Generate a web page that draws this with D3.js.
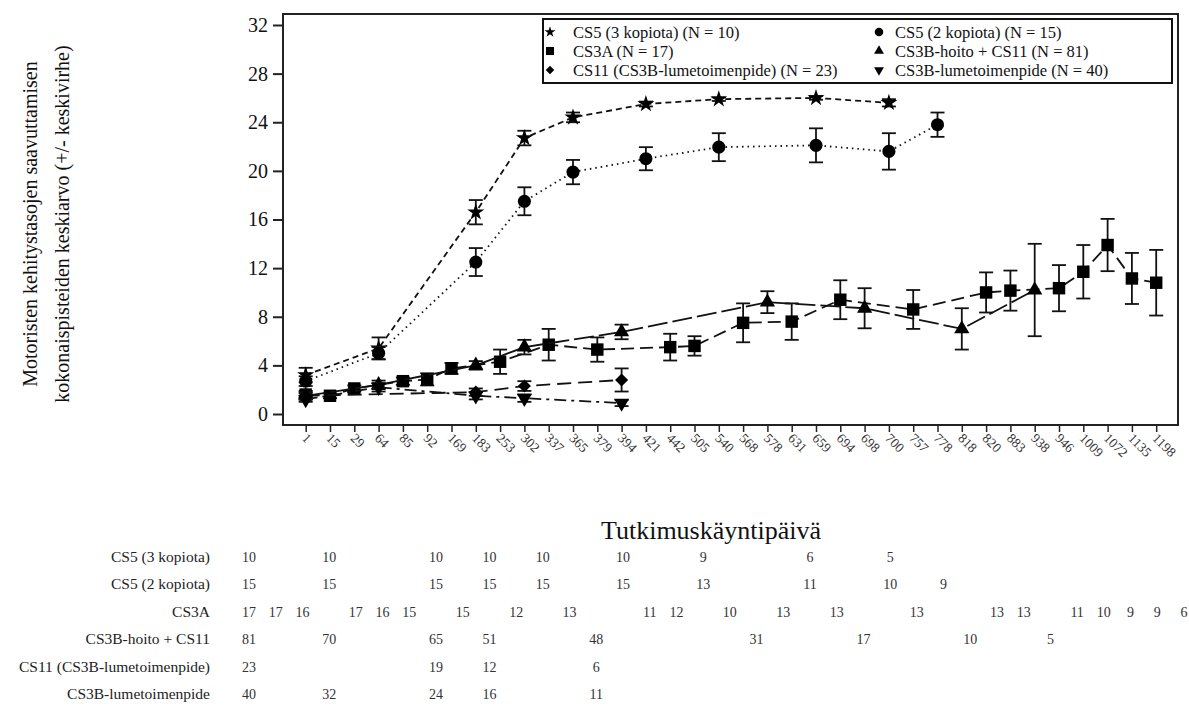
<!DOCTYPE html>
<html>
<head>
<meta charset="utf-8">
<script src="https://cdn.jsdelivr.net/npm/d3@7"></script>
<style>
  body { margin: 0; background: #fff; }
  svg { display: block; font-family: "Liberation Serif", "Times New Roman", "DejaVu Serif", serif; }
</style>
</head>
<body>
<svg id="chart" width="1189" height="706"></svg>
<script>
// Visit days on the x axis (treated as categories, evenly spaced)
const days = ['1', '15', '29', '64', '85', '92', '169', '183', '253', '302', '337', '365',
  '379', '394', '421', '442', '505', '540', '568', '578', '631', '659', '694', '698',
  '700', '757', '778', '818', '820', '883', '938', '946', '1009', '1072', '1135', '1198'];

const yTicks = [0, 4, 8, 12, 16, 20, 24, 28, 32];

// Series names (table rows) and the N shown in the legend
const seriesNames = ['CS5 (3 kopiota)', 'CS5 (2 kopiota)', 'CS3A', 'CS3B-hoito + CS11',
  'CS11 (CS3B-lumetoimenpide)', 'CS3B-lumetoimenpide'];
const legendN = [10, 15, 17, 81, 23, 40];

// CS5 (3 kopiota)
const cs5k3Days = ['1', '64', '183', '302', '365', '421', '540', '659', '700'];
const cs5k3Mean = [3.2, 5.4, 16.6, 22.7, 24.4, 25.5, 25.9, 26.0, 25.6];
const cs5k3Se = [0.6, 0.9, 1.0, 0.6, 0.4, 0.2, 0.15, 0.15, 0.3];
const cs5k3N = [10, 10, 10, 10, 10, 10, 9, 6, 5];

// CS5 (2 kopiota)
const cs5k2Days = ['1', '64', '183', '302', '365', '421', '540', '659', '700', '778'];
const cs5k2Mean = [2.7, 5.0, 12.5, 17.5, 19.9, 21.0, 21.95, 22.1, 21.6, 23.8];
const cs5k2Se = [0.4, 0.5, 1.15, 1.15, 1.0, 0.95, 1.15, 1.4, 1.5, 1.0];
const cs5k2N = [15, 15, 15, 15, 15, 15, 13, 11, 10, 9];

// CS3A
const cs3aDays = ['1', '15', '29', '85', '92', '169', '253', '337', '379', '442', '505',
  '568', '631', '694', '757', '820', '883', '946', '1009', '1072', '1135', '1198'];
const cs3aMean = [1.6, 1.5, 2.1, 2.7, 2.85, 3.75, 4.3, 5.7, 5.3, 5.5, 5.6,
  7.5, 7.6, 9.4, 8.6, 10.0, 10.15, 10.35, 11.7, 13.9, 11.15, 10.8];
const cs3aSe = [0.3, 0.2, 0.25, 0.3, 0.5, 0.45, 1.0, 1.3, 1.0, 1.1, 0.8,
  1.6, 1.5, 1.6, 1.6, 1.65, 1.65, 1.9, 2.2, 2.15, 2.1, 2.7];
const cs3aN = [17, 17, 16, 17, 16, 15, 15, 12, 13, 11, 12, 10, 13, 13, 13, 13, 13, 11, 10, 9, 9, 6];

// CS3B-hoito + CS11
const hoitoDays = ['1', '64', '183', '302', '394', '578', '698', '818', '938'];
const hoitoMean = [1.5, 2.4, 4.0, 5.5, 6.75, 9.2, 8.7, 7.0, 10.2];
const hoitoSe = [0.2, 0.35, 0.35, 0.6, 0.6, 0.9, 1.65, 1.7, 3.8];
const hoitoN = [81, 70, 65, 51, 48, 31, 17, 10, 5];

// CS11 (CS3B-lumetoimenpide)
const cs11Days = ['1', '183', '302', '394'];
const cs11Mean = [1.5, 1.8, 2.3, 2.8];
const cs11Se = [0.3, 0.3, 0.4, 0.95];
const cs11N = [23, 19, 12, 6];

// CS3B-lumetoimenpide
const lumeDays = ['1', '64', '183', '302', '394'];
const lumeMean = [1.2, 2.2, 1.5, 1.3, 0.9];
const lumeSe = [0.2, 0.35, 0.3, 0.3, 0.25];
const lumeN = [40, 32, 24, 16, 11];

// Marker + line style per series (same order as seriesNames)
const STYLES = [
  {symbol: d3.symbolStar, size: 90, rotate: 0, dash: '6,4'},
  {symbol: d3.symbolCircle, size: 135, rotate: 0, dash: '1.5,4'},
  {symbol: d3.symbolSquare, size: 155, rotate: 0, dash: '13,6'},
  {symbol: d3.symbolTriangle, size: 100, rotate: 0, dash: '20,5'},
  {symbol: d3.symbolSquare, size: 85, rotate: 45, dash: '14,7'},
  {symbol: d3.symbolTriangle, size: 100, rotate: 180, dash: '12,5,3,5'},
];

// Put the arrays together, one object per series
const series = [
  [cs5k3Days, cs5k3Mean, cs5k3Se, cs5k3N],
  [cs5k2Days, cs5k2Mean, cs5k2Se, cs5k2N],
  [cs3aDays, cs3aMean, cs3aSe, cs3aN],
  [hoitoDays, hoitoMean, hoitoSe, hoitoN],
  [cs11Days, cs11Mean, cs11Se, cs11N],
  [lumeDays, lumeMean, lumeSe, lumeN],
].map(([d, m, s, n], i) => ({
  name: seriesNames[i],
  style: STYLES[i],
  points: d.map((day, j) => ({day: day, mean: m[j], se: s[j], n: n[j]})),
}));

const svg = d3.select('#chart');

// Plot frame
const frame = {left: 283, top: 14, right: 1178, bottom: 425};

const x = d3.scalePoint().domain(days).range([305.7, 1156.2]);
const y = d3.scaleLinear().domain([0, 32]).range([414, 25]);

// N table columns are spaced on their own grid below the chart
const tableX = d3.scalePoint().domain(days).range([249, 1184]);

const SERIF = '"Liberation Serif", "Times New Roman", serif';

// Axes
const yAxis = svg.append('g')
  .attr('transform', `translate(${frame.left},0)`)
  .call(d3.axisLeft(y).tickValues(yTicks).tickSize(10).tickPadding(5));
yAxis.select('.domain').remove();
yAxis.selectAll('line').attr('stroke', '#222').attr('stroke-width', 2);
yAxis.selectAll('text')
  .attr('font-family', SERIF)
  .attr('font-size', 20)
  .attr('fill', '#111');

const xAxis = svg.append('g')
  .attr('transform', `translate(0,${frame.bottom})`)
  .call(d3.axisBottom(x).tickSize(7));
xAxis.select('.domain').remove();
xAxis.selectAll('line').attr('stroke', '#222').attr('stroke-width', 1.5);
xAxis.selectAll('text')
  .attr('font-family', SERIF)
  .attr('font-size', 13.5)
  .attr('fill', '#333')
  .attr('text-anchor', 'start')
  .attr('dy', null)
  .attr('y', null)
  .attr('transform', 'translate(-5,14) rotate(45)');

svg.append('rect')
  .attr('x', frame.left)
  .attr('y', frame.top)
  .attr('width', frame.right - frame.left)
  .attr('height', frame.bottom - frame.top)
  .attr('fill', 'none')
  .attr('stroke', '#222')
  .attr('stroke-width', 2);

// Lines, error bars and markers
const line = d3.line()
  .x((p) => x(p.day))
  .y((p) => y(p.mean));

const CAP = 7;

series.forEach((s) => {
  const g = svg.append('g');

  g.append('path')
    .attr('d', line(s.points))
    .attr('fill', 'none')
    .attr('stroke', '#111')
    .attr('stroke-width', 1.8)
    .attr('stroke-dasharray', s.style.dash);

  const bars = g.selectAll('.bar').data(s.points).join('g')
    .attr('stroke', '#111')
    .attr('stroke-width', 1.8);
  bars.append('line')
    .attr('x1', (p) => x(p.day)).attr('x2', (p) => x(p.day))
    .attr('y1', (p) => y(p.mean + p.se)).attr('y2', (p) => y(p.mean - p.se));
  bars.append('line')
    .attr('x1', (p) => x(p.day) - CAP).attr('x2', (p) => x(p.day) + CAP)
    .attr('y1', (p) => y(p.mean + p.se)).attr('y2', (p) => y(p.mean + p.se));
  bars.append('line')
    .attr('x1', (p) => x(p.day) - CAP).attr('x2', (p) => x(p.day) + CAP)
    .attr('y1', (p) => y(p.mean - p.se)).attr('y2', (p) => y(p.mean - p.se));

  const sym = d3.symbol().type(s.style.symbol).size(s.style.size);
  g.selectAll('.mark').data(s.points).join('path')
    .attr('d', sym)
    .attr('fill', '#000')
    .attr('transform', (p) => `translate(${x(p.day)},${y(p.mean)}) rotate(${s.style.rotate})`);
});

// Legend box (two columns, three rows)
const legend = svg.append('g');
legend.append('rect')
  .attr('x', 543).attr('y', 19)
  .attr('width', 629).attr('height', 64)
  .attr('fill', '#fff')
  .attr('stroke', '#111')
  .attr('stroke-width', 2);

const LEGEND_COLS = [[550, 573], [879, 895]];
series.forEach((s, i) => {
  const [sx, tx] = LEGEND_COLS[i % 2];
  const ly = 32 + Math.floor(i / 2) * 19;
  legend.append('path')
    .attr('d', d3.symbol().type(s.style.symbol).size(s.style.size * 0.42)())
    .attr('fill', '#000')
    .attr('transform', `translate(${sx},${ly}) rotate(${s.style.rotate})`);
  legend.append('text')
    .attr('x', tx)
    .attr('y', ly + 5.5)
    .attr('font-size', 16.5)
    .attr('fill', '#111')
    .text(`${s.name} (N = ${legendN[i]})`);
});

// Axis titles
svg.append('text')
  .attr('transform', 'translate(37,224) rotate(-90)')
  .attr('text-anchor', 'middle')
  .attr('font-size', 20)
  .attr('fill', '#111')
  .text('Motoristen kehitystasojen saavuttamisen');
svg.append('text')
  .attr('transform', 'translate(69,224) rotate(-90)')
  .attr('text-anchor', 'middle')
  .attr('font-size', 20)
  .attr('fill', '#111')
  .text('kokonaispisteiden keskiarvo (+/- keskivirhe)');

svg.append('text')
  .attr('x', 711)
  .attr('y', 539)
  .attr('text-anchor', 'middle')
  .attr('font-size', 26)
  .attr('fill', '#111')
  .text('Tutkimuskäyntipäivä');

// Table of N per visit
const table = svg.append('g');
series.forEach((s, i) => {
  const ty = 562 + i * 27.4;
  table.append('text')
    .attr('x', 210)
    .attr('y', ty)
    .attr('text-anchor', 'end')
    .attr('font-size', 15.5)
    .attr('fill', '#222')
    .text(s.name);
  table.selectAll(null).data(s.points).join('text')
    .attr('x', (p) => tableX(p.day))
    .attr('y', ty)
    .attr('text-anchor', 'middle')
    .attr('font-size', 14)
    .attr('fill', '#333')
    .text((p) => p.n);
});
</script>
</body>
</html>
